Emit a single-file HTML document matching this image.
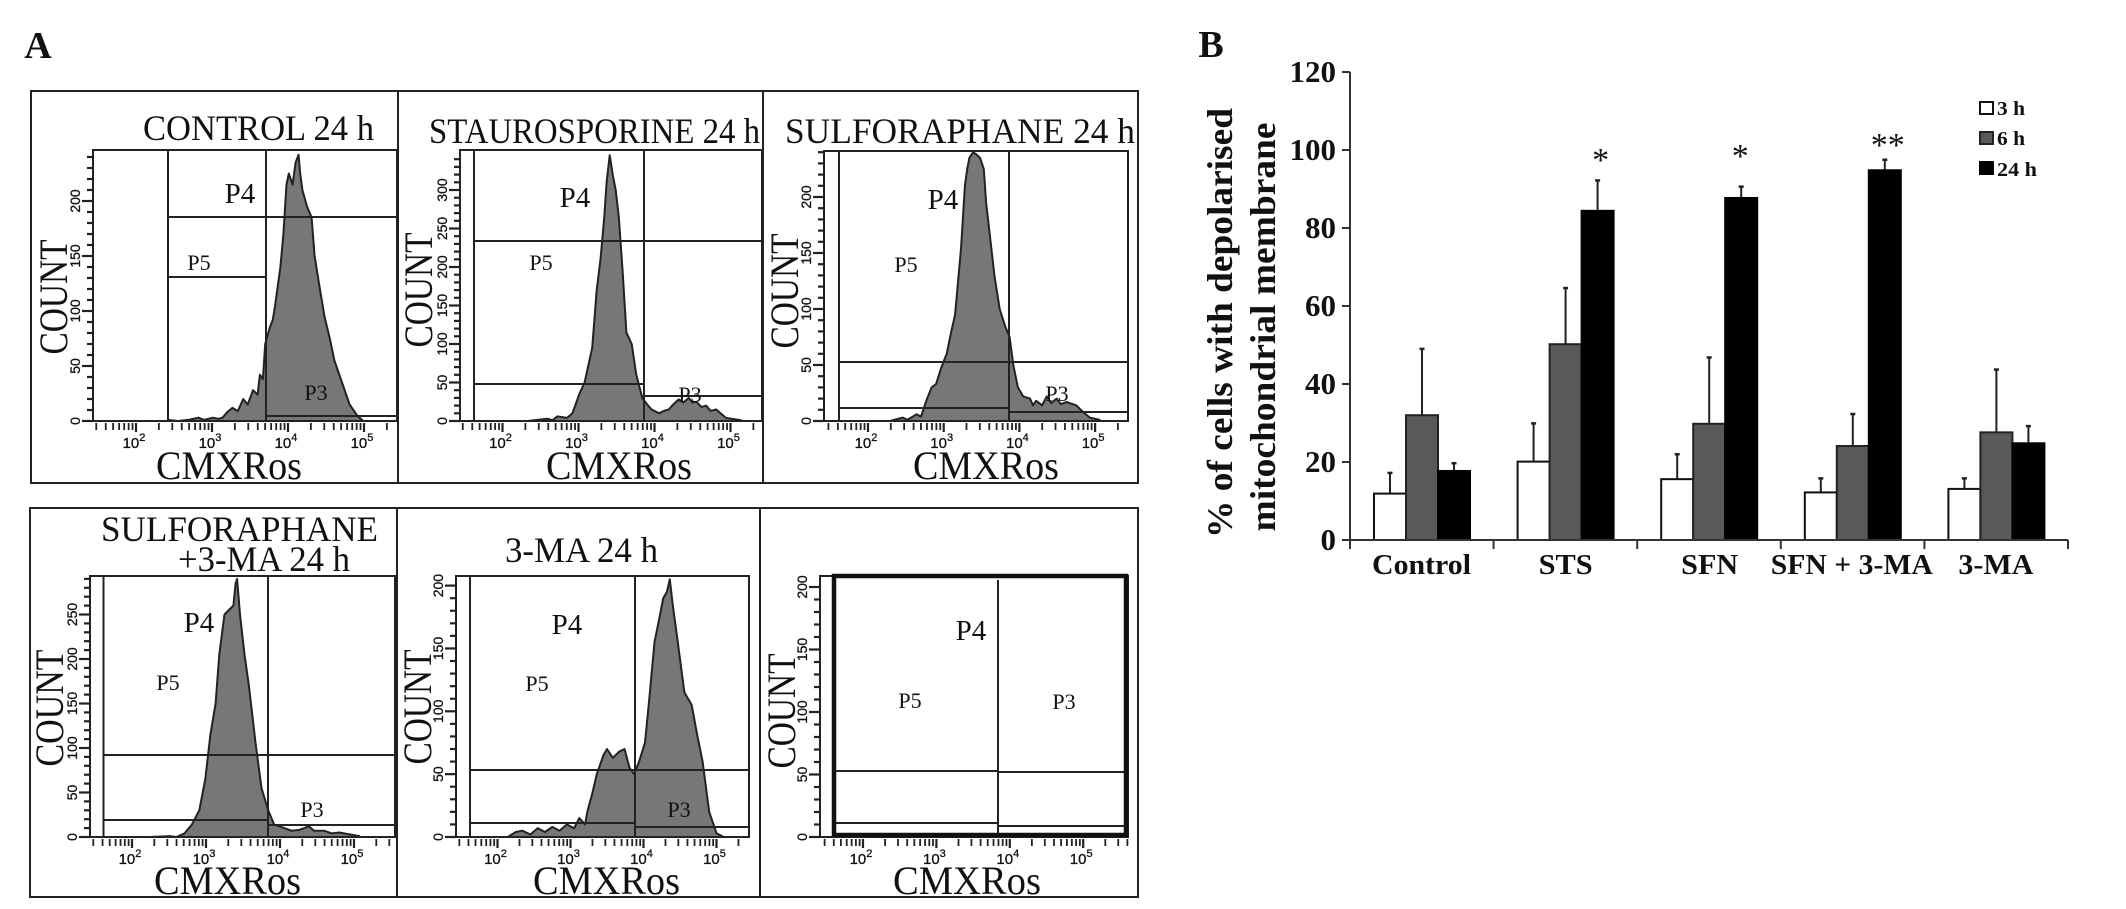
<!DOCTYPE html>
<html lang="en">
<head>
<meta charset="utf-8">
<title>Flow cytometry histograms and depolarised membrane bar chart</title>
<style>
html,body{margin:0;padding:0;background:#fff;width:2126px;height:909px;overflow:hidden}
svg{display:block}
text{font-family:"Liberation Serif",serif;fill:#111}
.title{font-size:36px}
.axt{font-size:40px}
.p4{font-size:29px}
.p5{font-size:22px}
.bold{font-weight:bold}
</style>
</head>
<body>
<svg id="figure" xmlns="http://www.w3.org/2000/svg" width="2126" height="909" viewBox="0 0 2126 909">
  <rect x="0" y="0" width="2126" height="909" fill="#fff"/>
  <g id="histograms"></g>

  <text class="bold" x="38" y="58" font-size="38" text-anchor="middle">A</text>
  <text class="bold" x="1211" y="57" font-size="38" text-anchor="middle">B</text>

  <text class="title" x="143" y="140" textLength="231" lengthAdjust="spacingAndGlyphs">CONTROL 24 h</text>
  <text class="title" x="429" y="143" textLength="331" lengthAdjust="spacingAndGlyphs">STAUROSPORINE 24 h</text>
  <text class="title" x="785" y="143" textLength="350" lengthAdjust="spacingAndGlyphs">SULFORAPHANE 24 h</text>
  <text class="title" x="101" y="541" textLength="277" lengthAdjust="spacingAndGlyphs">SULFORAPHANE</text>
  <text class="title" x="178" y="571" textLength="172" lengthAdjust="spacingAndGlyphs">+3-MA 24 h</text>
  <text class="title" x="505" y="562" textLength="153" lengthAdjust="spacingAndGlyphs">3-MA 24 h</text>

  <text class="axt" transform="translate(67 297) rotate(-90)" text-anchor="middle" textLength="115" lengthAdjust="spacingAndGlyphs">COUNT</text>
  <text class="axt" transform="translate(432 290) rotate(-90)" text-anchor="middle" textLength="115" lengthAdjust="spacingAndGlyphs">COUNT</text>
  <text class="axt" transform="translate(798 291) rotate(-90)" text-anchor="middle" textLength="115" lengthAdjust="spacingAndGlyphs">COUNT</text>
  <text class="axt" transform="translate(63 708) rotate(-90)" text-anchor="middle" textLength="117" lengthAdjust="spacingAndGlyphs">COUNT</text>
  <text class="axt" transform="translate(431 707) rotate(-90)" text-anchor="middle" textLength="115" lengthAdjust="spacingAndGlyphs">COUNT</text>
  <text class="axt" transform="translate(795 711) rotate(-90)" text-anchor="middle" textLength="115" lengthAdjust="spacingAndGlyphs">COUNT</text>

  <text class="axt" x="156" y="479" textLength="146" lengthAdjust="spacingAndGlyphs">CMXRos</text>
  <text class="axt" x="546" y="479" textLength="146" lengthAdjust="spacingAndGlyphs">CMXRos</text>
  <text class="axt" x="913" y="479" textLength="146" lengthAdjust="spacingAndGlyphs">CMXRos</text>
  <text class="axt" x="154" y="894" textLength="147" lengthAdjust="spacingAndGlyphs">CMXRos</text>
  <text class="axt" x="533" y="894" textLength="147" lengthAdjust="spacingAndGlyphs">CMXRos</text>
  <text class="axt" x="893" y="894" textLength="148" lengthAdjust="spacingAndGlyphs">CMXRos</text>

  <text class="p4" x="240" y="203" text-anchor="middle">P4</text>
  <text class="p5" x="199" y="270" text-anchor="middle">P5</text>
  <text class="p5" x="316" y="400" text-anchor="middle">P3</text>
  <text class="p4" x="575" y="207" text-anchor="middle">P4</text>
  <text class="p5" x="541" y="270" text-anchor="middle">P5</text>
  <text class="p5" x="690" y="402" text-anchor="middle">P3</text>
  <text class="p4" x="943" y="209" text-anchor="middle">P4</text>
  <text class="p5" x="906" y="272" text-anchor="middle">P5</text>
  <text class="p5" x="1057" y="401" text-anchor="middle">P3</text>
  <text class="p4" x="199" y="632" text-anchor="middle">P4</text>
  <text class="p5" x="168" y="690" text-anchor="middle">P5</text>
  <text class="p5" x="312" y="817" text-anchor="middle">P3</text>
  <text class="p4" x="567" y="634" text-anchor="middle">P4</text>
  <text class="p5" x="537" y="691" text-anchor="middle">P5</text>
  <text class="p5" x="679" y="817" text-anchor="middle">P3</text>
  <text class="p4" x="971" y="640" text-anchor="middle">P4</text>
  <text class="p5" x="910" y="708" text-anchor="middle">P5</text>
  <text class="p5" x="1064" y="709" text-anchor="middle">P3</text>

  <g id="barchart"></g>

  <text class="bold" transform="translate(1232 323) rotate(-90)" font-size="36" text-anchor="middle" textLength="430" lengthAdjust="spacingAndGlyphs">% of cells with depolarised</text>
  <text class="bold" transform="translate(1275 327) rotate(-90)" font-size="36" text-anchor="middle" textLength="409" lengthAdjust="spacingAndGlyphs">mitochondrial membrane</text>

  <g>
    <rect x="1980" y="102" width="13" height="12" fill="#fff" stroke="#111" stroke-width="2"/>
    <text class="bold" x="1997" y="115" font-size="20" textLength="28" lengthAdjust="spacingAndGlyphs">3 h</text>
    <rect x="1980" y="132" width="13" height="12" fill="#595959" stroke="#222" stroke-width="2"/>
    <text class="bold" x="1997" y="145" font-size="20" textLength="28" lengthAdjust="spacingAndGlyphs">6 h</text>
    <rect x="1980" y="162" width="13" height="12" fill="#000" stroke="#000" stroke-width="2"/>
    <text class="bold" x="1997" y="176" font-size="20" textLength="40" lengthAdjust="spacingAndGlyphs">24 h</text>
  </g>
</svg>

<script>
// ---- Histogram data (log10 CMXRos intensity, event count) ----
const controlLog = [2.42,2.55,2.69,2.82,2.9,3.01,3.08,3.14,3.2,3.27,3.34,3.41,3.47,3.54,3.6,3.63,3.67,3.7,3.76,3.8,3.83,3.9,3.94,3.98,4.01,4.06,4.1,4.14,4.16,4.19,4.25,4.31,4.35,4.42,4.48,4.55,4.61,4.71,4.81,4.91,4.99];
const controlCount = [1,0,1,3,1,3,2,3,8,12,9,20,15,28,24,42,38,70,85,92,105,140,170,215,225,215,235,242,225,210,195,185,150,120,95,75,55,35,15,5,0];
const stsLog = [2.33,2.59,2.66,2.72,2.85,2.92,3.01,3.08,3.18,3.24,3.29,3.34,3.37,3.41,3.42,3.45,3.49,3.53,3.58,3.63,3.7,3.76,3.84,3.9,3.96,4.06,4.12,4.19,4.25,4.32,4.38,4.45,4.5,4.55,4.62,4.68,4.74,4.81,4.94,5.14];
const stsCount = [0,3,1,6,4,10,35,50,95,170,210,265,310,345,340,320,300,265,195,115,100,60,30,22,15,10,13,15,22,28,24,30,24,25,18,20,13,15,4,1];
const sfnLog = [2.29,2.46,2.52,2.64,2.7,2.77,2.84,2.9,2.97,3.04,3.1,3.15,3.19,3.23,3.28,3.31,3.34,3.39,3.43,3.48,3.53,3.56,3.62,3.67,3.74,3.81,3.87,3.92,3.98,4.05,4.14,4.18,4.22,4.3,4.36,4.42,4.49,4.55,4.62,4.75,4.84,4.93,5.06];
const sfnCount = [0,3,1,6,4,18,30,33,48,60,80,95,125,155,210,225,235,240,238,235,225,195,160,130,100,85,75,50,30,22,20,14,18,14,22,16,20,15,17,14,8,3,1];
const comboLog = [2.24,2.51,2.6,2.71,2.81,2.91,2.99,3.06,3.13,3.18,3.25,3.31,3.37,3.4,3.42,3.46,3.52,3.58,3.67,3.75,3.84,3.92,4.06,4.16,4.26,4.39,4.46,4.6,4.7,4.8,5.07];
const comboCount = [0,1,0,4,14,30,65,115,150,205,250,255,260,285,290,250,205,170,105,55,30,14,10,7,8,12,7,7,4,5,1];
const threeMaLog = [2.14,2.25,2.34,2.45,2.55,2.65,2.75,2.85,2.95,3.05,3.12,3.2,3.23,3.3,3.36,3.45,3.5,3.58,3.67,3.74,3.81,3.87,3.94,4.02,4.08,4.15,4.22,4.27,4.32,4.36,4.4,4.47,4.56,4.66,4.74,4.81,4.9,5,5.1];
const threeMaCount = [0,4,5,2,7,4,8,5,10,7,15,10,20,35,50,65,70,63,68,70,55,50,60,75,110,155,175,190,195,205,185,155,115,105,80,60,20,3,0];

const countTickLabels1 = [0,50,100,150,200];
const countTickLabels2 = [0,50,100,150,200,250,300];
const countTickLabels3 = [0,50,100,150,200];
const countTickLabels4 = [0,50,100,150,200,250];
const countTickLabels5 = [0,50,100,150,200];
const countTickLabels6 = [0,50,100,150,200];
const decadeLabels = [2,3,4,5];

// ---- Bar chart data ----
const categories = ['Control','STS','SFN','SFN + 3-MA','3-MA'];
const values3h = [11.9,20.1,15.6,12.2,13.1];
const values6h = [32,50.2,29.8,24.1,27.6];
const values24h = [17.7,84.4,87.7,94.8,24.8];
const errors3h = [5.3,9.8,6.4,3.6,2.7];
const errors6h = [17,14.4,17,8.2,16.1];
const errors24h = [2,7.8,2.9,2.7,4.4];
const significance = ['','*','*','**',''];
const significanceLevel = [0,94.6,95.6,98.5,0];
const yTickValues = [0,20,40,60,80,100,120];

// ---- Layout (geometry only) ----
const SVGNS = 'http://www.w3.org/2000/svg';
function mk(parent, tag, attrs){
  const el = document.createElementNS(SVGNS, tag);
  for (const k in attrs) el.setAttribute(k, attrs[k]);
  parent.appendChild(el);
  return el;
}
const histRoot = document.getElementById('histograms');
const barRoot = document.getElementById('barchart');

const boxes = [
  {x:31,y:91,w:1107,h:392,div:[398,763]},
  {x:30,y:508,w:1108,h:389,div:[397,760]}
];
const histLayouts = [
  {left:93,right:397,top:150,base:421,dec2:136,decW:76,perCount:1.1,log:controlLog,cnt:controlCount,ticks:countTickLabels1,yMax:240,
   v:[[168,150,421],[266,150,421]],h:[[168,397,217],[168,266,277],[266,397,416]]},
  {left:460,right:762,top:150,base:421,dec2:502.5,decW:76,perCount:0.77,log:stsLog,cnt:stsCount,ticks:countTickLabels2,yMax:340,
   v:[[474,150,421],[644,150,421]],h:[[474,762,241],[474,644,384],[644,762,396]]},
  {left:824,right:1128,top:151,base:421,dec2:868,decW:75.7,perCount:1.12,log:sfnLog,cnt:sfnCount,ticks:countTickLabels3,yMax:240,
   v:[[839,151,421],[1009,151,421]],h:[[839,1128,362],[839,1009,408],[1009,1128,412]]},
  {left:90,right:395,top:576,base:837,dec2:132,decW:74,perCount:0.89,log:comboLog,cnt:comboCount,ticks:countTickLabels4,yMax:290,
   v:[[103.5,576,837],[268,576,837]],h:[[103.5,395,755],[103.5,268,820],[268,395,825]]},
  {left:456,right:749,top:576,base:837,dec2:497.5,decW:73,perCount:1.257,log:threeMaLog,cnt:threeMaCount,ticks:countTickLabels5,yMax:205,
   v:[[470,576,837],[635,576,837]],h:[[470,749,770],[470,635,823],[635,749,827]]},
  {left:820,right:1128,top:576,base:837,dec2:863,decW:73.4,perCount:1.25,log:[],cnt:[],ticks:countTickLabels6,yMax:205,
   v:[[998,580,833]],h:[[836,998,771],[998,1124,772],[836,998,823],[998,1124,826]],thick:[834,576,1126,835]}
];

boxes.forEach(function(b){
  const r = mk(histRoot,'rect',{x:b.x,y:b.y,width:b.w,height:b.h,fill:'none',stroke:'#222','stroke-width':2});
  
  
  b.div.forEach(function(dx){
    const d = mk(histRoot,'line',{x1:dx,x2:dx,y1:b.y,y2:b.y+b.h,stroke:'#222','stroke-width':2});
    
    
  });
});

histLayouts.forEach(function(p){
  const xOf = function(l){ return p.dec2 + (l-2)*p.decW; };
  const yOf = function(c){ return p.base - c*p.perCount; };
  const g = mk(histRoot,'g',{});
  
  

  if (p.log.length){
    let d = 'M'+xOf(p.log[0]).toFixed(1)+' '+p.base;
    p.log.forEach(function(l,i){
      d += 'L'+xOf(l).toFixed(1)+' '+yOf(p.cnt[i]).toFixed(1);
    });
    d += 'L'+xOf(p.log[p.log.length-1]).toFixed(1)+' '+p.base+'Z';
    const area = mk(g,'path',{d:d,fill:'#777',stroke:'#222','stroke-width':2,'stroke-linejoin':'round'});
    
    
  }

  const frame = mk(g,'path',{d:'M'+p.left+' '+p.base+'V'+p.top+'H'+p.right+'V'+p.base+'Z',fill:'none',stroke:'#222','stroke-width':2});
  
  

  p.v.forEach(function(a){
    const l = mk(g,'line',{x1:a[0],x2:a[0],y1:a[1],y2:a[2],stroke:'#222','stroke-width':2});
    
    
  });
  p.h.forEach(function(a){
    const l = mk(g,'line',{x1:a[0],x2:a[1],y1:a[2],y2:a[2],stroke:'#222','stroke-width':2});
    
    
  });
  if (p.thick){
    const t = mk(g,'rect',{x:p.thick[0],y:p.thick[1],width:p.thick[2]-p.thick[0],height:p.thick[3]-p.thick[1],fill:'none',stroke:'#111','stroke-width':4.5});
    
    
  }

  // count axis minor + major ticks
  for (let c = 0; c <= p.yMax; c += 10){
    const major = c % 50 === 0;
    const y = yOf(c);
    const tk = mk(g,'line',{x1:p.left-(major?11:6),x2:p.left,y1:y,y2:y,stroke:'#222','stroke-width':2.2});
    
    
  }
  p.ticks.forEach(function(c){
    const y = yOf(c);
    const tx = mk(g,'text',{transform:'translate('+(p.left-13)+' '+y+') rotate(-90)','text-anchor':'middle','font-size':14,stroke:'#111','stroke-width':0.3,style:'font-family:\'Liberation Sans\',sans-serif'});
    tx.textContent = String(c);
    
    
  });

  // log axis ticks
  for (let dec = 1; dec <= 5; dec++){
    for (let m = 2; m <= 10; m++){
      const x = xOf(dec + Math.log10(m));
      if (x < p.left || x > p.right) continue;
      const major = m === 10;
      const tk = mk(g,'line',{x1:x,x2:x,y1:p.base+2,y2:p.base+(major?11:9),stroke:'#222','stroke-width':major?2.2:1.8});
      
      
    }
  }
  decadeLabels.forEach(function(e){
    const x = xOf(e);
    const tx = mk(g,'text',{x:x-2,y:p.base+27,'text-anchor':'middle','font-size':15,stroke:'#111','stroke-width':0.3,style:'font-family:\'Liberation Sans\',sans-serif'});
    tx.textContent = '10';
    
    
    const sup = mk(tx,'tspan',{dy:-7,'font-size':11});
    sup.textContent = String(e);
  });
});

// ---- Bar chart ----
const barX0 = 1350, groupW = 143.6, barW = 32, barPad = 24;
const yBase = 540, unit = 3.9;
const labelLeftOffset = [22,45,44,-10,34];
const labelWidth = [99,54,57,162,75];
const starShift = [0,3,-1,3,0];
const yAt = function(v){ return yBase - v*unit; };
const groupX = function(i){ return barX0 + i*groupW; };

const series = [
  {vals:values3h,errs:errors3h,fill:'#fff',stroke:'#111'},
  {vals:values6h,errs:errors6h,fill:'#595959',stroke:'#222'},
  {vals:values24h,errs:errors24h,fill:'#000',stroke:'#000'}
];

categories.forEach(function(cat,i){
  series.forEach(function(s,k){
    const x = groupX(i) + barPad + k*barW;
    const v = s.vals[i];
    const top = yAt(v + s.errs[i]);
    const cx = x + barW/2;
    const er = mk(barRoot,'line',{x1:cx,x2:cx,y1:top,y2:yAt(v),stroke:'#222','stroke-width':2});
    
    
    const cap = mk(barRoot,'line',{x1:cx-2.5,x2:cx+2.5,y1:top,y2:top,stroke:'#222','stroke-width':2.5});
    
    
    const bar = mk(barRoot,'rect',{x:x,y:yAt(v),width:barW,height:yBase-yAt(v),fill:s.fill,stroke:s.stroke,'stroke-width':2});
    
    
  });
  const label = mk(barRoot,'text',{x:groupX(i)+labelLeftOffset[i],y:574,'font-size':29,'font-weight':'bold',textLength:labelWidth[i],lengthAdjust:'spacingAndGlyphs'});
  label.textContent = cat;
  
  
  if (significance[i]){
    const st = mk(barRoot,'text',{x:groupX(i)+barPad+2.5*barW+starShift[i],y:yAt(significanceLevel[i]),'text-anchor':'middle','font-size':34});
    st.textContent = significance[i];
    
    
  }
});

const yAxis = mk(barRoot,'line',{x1:barX0,x2:barX0,y1:yAt(120),y2:yBase,stroke:'#333','stroke-width':2});


const xAxis = mk(barRoot,'line',{x1:barX0,x2:groupX(categories.length),y1:yBase,y2:yBase,stroke:'#333','stroke-width':2});



yTickValues.forEach(function(v){
  const t = mk(barRoot,'line',{x1:barX0-8,x2:barX0,y1:yAt(v),y2:yAt(v),stroke:'#333','stroke-width':2});
  
  
  const lb = mk(barRoot,'text',{x:barX0-14,y:yAt(v)+10,'text-anchor':'end','font-size':31,'font-weight':'bold'});
  lb.textContent = String(v);
  
  
});
for (let i = 0; i <= categories.length; i++){
  const t = mk(barRoot,'line',{x1:groupX(i),x2:groupX(i),y1:yBase,y2:yBase+9,stroke:'#333','stroke-width':2});
  
  
}
</script>
</body>
</html>
